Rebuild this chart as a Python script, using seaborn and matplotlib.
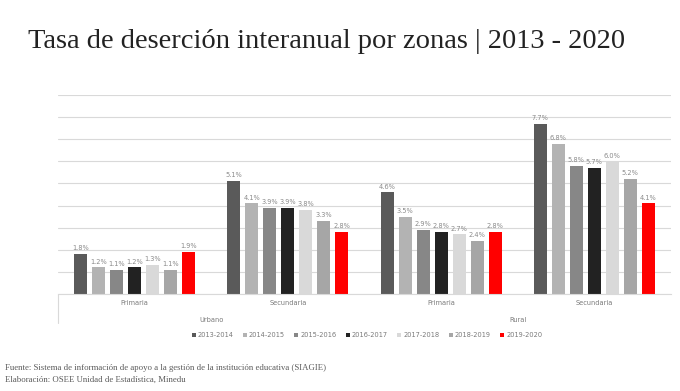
import pandas as pd
import matplotlib
matplotlib.use('Agg')
import matplotlib.pyplot as plt
import seaborn as sns

# ==== data ====
zonas = ['Urbano', 'Urbano', 'Rural', 'Rural']
niveles = ['Primaria', 'Secundaria', 'Primaria', 'Secundaria']
periodos = ['2013-2014', '2014-2015', '2015-2016', '2016-2017',
            '2017-2018', '2018-2019', '2019-2020']

urb_primaria = [1.8, 1.2, 1.1, 1.2, 1.3, 1.1, 1.9]
urb_secundaria = [5.1, 4.1, 3.9, 3.9, 3.8, 3.3, 2.8]
rur_primaria = [4.6, 3.5, 2.9, 2.8, 2.7, 2.4, 2.8]
rur_secundaria = [7.7, 6.8, 5.8, 5.7, 6.0, 5.2, 4.1]

colores = ['#5a5a5a', '#b3b3b3', '#878787', '#222222',
           '#d9d9d9', '#a6a6a6', '#ff0000']

series = [urb_primaria, urb_secundaria, rur_primaria, rur_secundaria]
grupos = [z + ' ' + n for z, n in zip(zonas, niveles)]

rows = []
for g, vals in zip(grupos, series):
    for p, v in zip(periodos, vals):
        rows.append({'grupo': g, 'periodo': p, 'tasa': v})
df = pd.DataFrame(rows)

sns.set_style('white')
fig = plt.figure(figsize=(6.8, 3.91), dpi=100)
ax = fig.add_axes([58 / 680, 1 - 294 / 391, 613 / 680, 199 / 391])

sns.barplot(data=df, x='grupo', y='tasa', hue='periodo', order=grupos,
            hue_order=periodos, palette=colores, saturation=1,
            errorbar=None, width=0.822, gap=0.28, linewidth=0, ax=ax)

for c in ax.containers:
    ax.bar_label(c, fmt='%.1f%%', padding=2, fontsize=4.8, color='#8a8a8a')

ax.set_ylim(0, 9)
ax.set_xlim(-0.5, 3.5)
ax.set_yticks(range(0, 10))
ax.set_yticklabels([])
ax.tick_params(axis='y', length=0)
ax.grid(axis='y', color='#d9d9d9', linewidth=0.8)
ax.set_axisbelow(True)
for s in ['top', 'right', 'left']:
    ax.spines[s].set_visible(False)
ax.spines['bottom'].set_color('#d9d9d9')
ax.spines['bottom'].set_linewidth(0.8)

ax.set_xticks(range(4))
ax.set_xticklabels(niveles, fontsize=4.8, color='#7a7a7a')
ax.tick_params(axis='x', length=0, pad=4)
ax.set_xlabel('')
ax.set_ylabel('')

# zone labels under the level labels
for pos, z in [(0.5, 'Urbano'), (2.5, 'Rural')]:
    ax.text(pos, -0.13, z, transform=ax.get_xaxis_transform(),
            ha='center', va='center', fontsize=4.8, color='#7a7a7a')
ax.plot([0, 0], [0, -0.145], transform=ax.transAxes, color='#d9d9d9',
        linewidth=0.8, clip_on=False)

sns.move_legend(ax, 'center', bbox_to_anchor=(0.504, -0.206), ncol=7,
                frameon=False, title=None, fontsize=4.8, handlelength=0.6,
                handleheight=0.6, handletextpad=0.3, columnspacing=1.4,
                labelcolor='#7a7a7a')

fig.text(0.041, 0.895, 'Tasa de deserción interanual por zonas | 2013 - 2020',
         family='Liberation Serif', fontsize=20.5, color='#222222',
         ha='left', va='center')

fig.text(0.007, 1 - 368 / 391,
         'Fuente: Sistema de información de apoyo a la gestión de la institución educativa (SIAGIE)',
         family='Liberation Serif', fontsize=6.3, color='#595959', va='center')
fig.text(0.007, 1 - 380 / 391,
         'Elaboración: OSEE Unidad de Estadística, Minedu',
         family='Liberation Serif', fontsize=6.3, color='#595959', va='center')

fig.savefig('out.png', dpi=100, facecolor='white')
